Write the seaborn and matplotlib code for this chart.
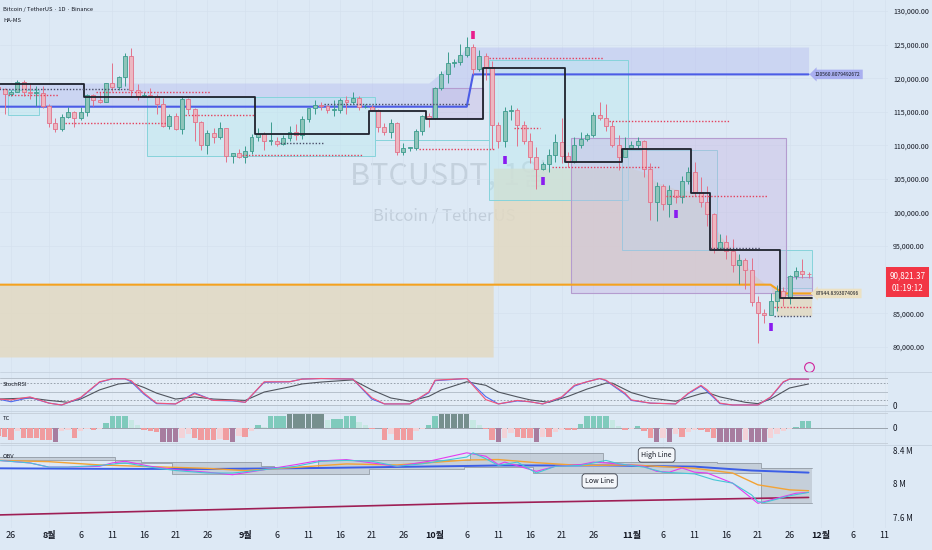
import numpy as np
import pandas as pd
import matplotlib
matplotlib.use('Agg')
import matplotlib.pyplot as plt
import seaborn as sns
from matplotlib.patches import Rectangle
from matplotlib.lines import Line2D
from matplotlib.colors import to_rgba

# ---- daily candles (BTCUSDT, Binance, 1D) ----
dates = pd.date_range('2025-07-24', '2025-11-29', freq='D')
first_open = 118750
closes = [118400, 117600, 117900, 119400, 118000, 117800, 117800, 115800,
          113300, 112500, 114200, 115000, 114100, 115000, 117500, 116700, 116500, 119300,
          118700, 120200, 123300, 118300, 117400, 117500, 117400, 116200, 112900, 114300,
          112500, 116900, 115400, 113500, 110100, 111800, 111200, 112600, 108400, 108800, 108300,
          109200, 111200, 111700, 110700, 110700, 110200, 111100, 112000, 111500, 113900,
          115500, 116000, 115900, 115300, 115300, 116800, 116400, 117100, 115700, 115700,
          115200, 112700, 112000, 113300, 109000, 109600, 109600, 112100, 114400, 114000,
          118600, 120600, 122200, 122400, 123500, 124700, 121400, 123300, 121700, 113000,
          110700, 115100, 115300, 113000, 110700, 108200, 106400, 107200, 108600, 110500,
          108400, 107500, 110000, 111000, 111600, 114500, 114100, 112900, 110000, 108300, 109600,
          110100, 110600, 106500, 101500, 103900, 101300, 103300, 102300, 104700, 106000,
          103000, 101600, 99700, 94500, 95600, 94200, 92200, 92900, 91500, 86600,
          85100, 84700, 86800, 88300, 87300, 90500, 91300, 90900, 90821.37]
highs = [119500, 118500, 118300, 119800, 119800, 119300, 118800, 118900,
         116100, 114000, 114700, 115700, 115100, 115700, 117600, 117700, 117900, 119300,
         122300, 120300, 123700, 124500, 119200, 117900, 118600, 117600, 117000, 114600,
         114800, 117400, 117000, 115600, 113600, 112300, 112600, 113400, 112600, 108900, 109500,
         109900, 111700, 112600, 112000, 113400, 111300, 111500, 112900, 113200, 114300,
         115500, 116700, 116400, 116000, 116800, 117000, 117300, 117900, 117400, 116200,
         116000, 115400, 113300, 113900, 113500, 110300, 109800, 112400, 114500, 114800,
         118700, 121000, 123900, 122900, 125100, 126200, 125100, 124200, 123700, 122500,
         113400, 115700, 116000, 115500, 113600, 111800, 109700, 107500, 109400, 111700,
         114000, 109000, 111300, 112000, 111900, 115000, 116400, 116100, 113600, 111600, 111200,
         110600, 111200, 110800, 107300, 104500, 104200, 104100, 103400, 105500, 106700,
         107500, 105300, 104000, 99900, 96800, 96600, 96000, 93800, 93200, 93200,
         87500, 85600, 88000, 89200, 88900, 90700, 91900, 93100, 91200]
lows = [117300, 114700, 117400, 117900, 117400, 116900, 115800, 115500,
        112700, 112000, 112100, 114100, 112700, 113700, 114300, 115900, 116300, 116500,
        118100, 118200, 118900, 117200, 116800, 117200, 117300, 114700, 112700, 112400,
        112300, 111700, 114600, 110700, 109300, 108700, 110400, 110900, 107500, 107400, 108100,
        107300, 108700, 110600, 109300, 110000, 109900, 110000, 110600, 110800, 110900,
        113400, 114700, 115200, 114800, 114400, 114800, 114700, 116200, 115200, 115500,
        115100, 112000, 111600, 111100, 108600, 108600, 109100, 109300, 111600, 112700,
        113900, 118300, 119300, 121600, 122000, 123100, 120600, 121100, 119700, 109500,
        109600, 109700, 113800, 109900, 110200, 107400, 103500, 106300, 106100, 107500,
        107400, 106700, 107400, 109600, 110700, 111300, 113800, 112200, 109700, 106300, 108600,
        109400, 109600, 105300, 98900, 98800, 100300, 99300, 101400, 101400, 104300,
        102500, 100800, 98000, 94000, 94600, 93000, 91200, 89300, 88600, 86100,
        80600, 83500, 84700, 85300, 86100, 86300, 90100, 90200, 90300]

# ---- HA-MS overlay levels ----
zone_dates = ['2025-07-24', '2025-09-30', '2025-10-04', '2025-10-06', '2025-10-07', '2025-11-29']
zone_lo = [115750, 115750, 115750, 115750, 120560.8, 120560.8]
zone_hi = [119280, 119280, 122400, 124640, 124640, 124640]

trend_dates = ['2025-07-24', '2025-08-07', '2025-09-03', '2025-09-21', '2025-09-30', '2025-10-09',
               '2025-10-22', '2025-10-31', '2025-11-11', '2025-11-14', '2025-11-25']
trend_levels = [119090, 117240, 111690, 115110, 113920, 121510, 107520, 109450, 102900, 94410, 87270]

beige_dates = ['2025-07-24', '2025-10-10 04:00', '2025-10-10 05:00', '2025-11-01', '2025-11-03',
               '2025-11-05', '2025-11-08', '2025-11-11', '2025-11-13', '2025-11-15', '2025-11-18',
               '2025-11-20', '2025-11-22', '2025-11-23', '2025-11-24', '2025-11-25', '2025-11-29 12:00']
base_levels = [89250, 89250, 89250, 89250, 89250, 89250, 89250, 89250, 89250, 89250, 89250,
               89250, 89250, 89250, 88600, 87944.84, 87944.84]
edge_levels = [78480, 78480, 106600, 106600, 106000, 104500, 103500, 103000, 100500, 96500, 93500,
               91000, 89500, 89250, 84600, 84600, 84600]

cyan_boxes = [('2025-07-26', '2025-07-30', 114510, 118240),
              ('2025-08-17', '2025-09-21', 108410, 117190),
              ('2025-10-10', '2025-10-31', 101860, 122700),
              ('2025-10-31', '2025-11-14', 94410, 109300),
              ('2025-11-25', '2025-11-29', 88750, 94410)]
cyan_levels = [('2025-09-22', '2025-10-09', 110840)]
purple_boxes = [('2025-10-01', '2025-10-08', 114070, 118530),
                ('2025-10-23', '2025-11-25', 88010, 111090),
                ('2025-11-26', '2025-11-29', 87710, 90390)]

red_levels = [('2025-07-26', '2025-08-02', 117490), ('2025-08-04', '2025-08-19', 113320),
              ('2025-08-09', '2025-08-26', 117940), ('2025-08-23', '2025-09-02', 114510),
              ('2025-09-01', '2025-09-19', 108560), ('2025-09-29', '2025-10-10', 109450),
              ('2025-10-10', '2025-10-27', 123000), ('2025-10-14', '2025-10-17', 112580),
              ('2025-10-20', '2025-11-05', 106770), ('2025-10-29', '2025-11-16', 113620),
              ('2025-11-07', '2025-11-22', 102460), ('2025-11-24', '2025-11-29', 85930)]
dark_levels = [('2025-07-24', '2025-08-13', 118390), ('2025-09-07', '2025-09-13', 110350),
               ('2025-09-14', '2025-10-06', 116150),
               ('2025-11-14', '2025-11-21', 94710), ('2025-11-24', '2025-11-29', 84590)]

signal_dates = ['2025-10-12', '2025-10-18', '2025-11-08', '2025-11-23']
signal_prices = [107810, 104690, 99770, 82950]
top_signal_date = '2025-10-07'
top_signal_price = 126430

# ---- StochRSI ----
k_dates = ['2025-07-24', '2025-07-26', '2025-07-29', '2025-08-01', '2025-08-03', '2025-08-06',
           '2025-08-09', '2025-08-11', '2025-08-13', '2025-08-14', '2025-08-16', '2025-08-18',
           '2025-08-21', '2025-08-24', '2025-08-27', '2025-08-30', '2025-09-01', '2025-09-04',
           '2025-09-08', '2025-09-10', '2025-09-13', '2025-09-18', '2025-09-21', '2025-09-23',
           '2025-09-27', '2025-09-30', '2025-10-01', '2025-10-06', '2025-10-09', '2025-10-11',
           '2025-10-14', '2025-10-16', '2025-10-18', '2025-10-21', '2025-10-23', '2025-10-25',
           '2025-10-27', '2025-10-28', '2025-10-31', '2025-11-01', '2025-11-04', '2025-11-08',
           '2025-11-10', '2025-11-12', '2025-11-13', '2025-11-15', '2025-11-17', '2025-11-21',
           '2025-11-23', '2025-11-25', '2025-11-26', '2025-11-29']
k_red = [22, 19, 30, 7, 0, 28, 86, 97, 97, 90, 44, 7, 4, 42, 17, 17, 10, 86, 86, 96,
         98, 96, 27, 4, 4, 48, 92, 98, 20, 4, 17, 12, 4, 30, 73, 86, 98, 92, 44, 19,
         7, 4, 44, 73, 56, 7, 0, 0, 30, 86, 96, 96]
k_blue = [22, 12, 28, 7, 0, 26, 84, 97, 97, 86, 40, 5, 4, 45, 17, 15, 10, 84, 86, 96,
          98, 96, 22, 4, 4, 45, 90, 98, 31, 4, 15, 12, 4, 28, 70, 86, 98, 90, 40, 17,
          7, 4, 42, 70, 50, 5, 0, 0, 28, 84, 96, 96]
d_dates = ['2025-07-24', '2025-07-29', '2025-08-01', '2025-08-04', '2025-08-06', '2025-08-09',
           '2025-08-12', '2025-08-14', '2025-08-16', '2025-08-18', '2025-08-21', '2025-08-24',
           '2025-08-27', '2025-08-30', '2025-09-01', '2025-09-04', '2025-09-08', '2025-09-10',
           '2025-09-13', '2025-09-18', '2025-09-21', '2025-09-24', '2025-09-27', '2025-09-30',
           '2025-10-02', '2025-10-06', '2025-10-09', '2025-10-11', '2025-10-14', '2025-10-16',
           '2025-10-19', '2025-10-22', '2025-10-25', '2025-10-28', '2025-10-29', '2025-11-01',
           '2025-11-04', '2025-11-08', '2025-11-12', '2025-11-13', '2025-11-15', '2025-11-19',
           '2025-11-21', '2025-11-23', '2025-11-26', '2025-11-29']
d_vals = [22, 26, 17, 10, 22, 56, 78, 82, 65, 44, 22, 30, 22, 19, 17, 48, 67, 78, 85, 93,
          56, 26, 14, 32, 56, 86, 73, 48, 30, 19, 10, 32, 59, 81, 81, 46, 26, 14, 42, 46,
          30, 10, 5, 22, 63, 78]

# ---- TC histogram (one bar per day) ----
tc_vals = [-8, -9, -12, -3, -10, -10, -10, -12,
           -12, -14, -3, -2, -10, -3, -1, -2, -1, 5, 12, 12, 12, 8, 3, -2, -3, -4,
           -14, -14, -14, -10, -6, -10, -12, -12, -12, -11, -12, -14, -8,
           -9, -3, 3, 1, 12, 12, 12, 14, 14, 14, 14, 14, 14, 8, 9, 9, 12, 12, 6, 3,
           -1, -0.5, -12, -6, -12, -12, -12, -3, -1, 3,
           12, 14, 14, 14, 14, 14, 8, 3, -1, -12, -14, -10, -5, -9, -10, -10, -14, -9, -9,
           -4, -2, -2, -2, 4, 12, 12, 12, 12, 8, 2, -2,
           -1, 2, -3, -10, -14, -10, -14, -6, -9, -4, -2, -2, -4, -10, -14, -14, -14, -14,
           -12, -14, -14, -14, -10, -6, -3, -1, 1, 7, 7]

# ---- OBV (millions) ----
obv_dates = ['2025-07-24', '2025-07-29', '2025-08-01', '2025-08-04', '2025-08-09', '2025-08-13',
             '2025-08-17', '2025-08-21', '2025-08-26', '2025-08-30', '2025-09-04', '2025-09-09',
             '2025-09-13', '2025-09-17', '2025-09-21', '2025-09-25', '2025-09-29', '2025-10-06',
             '2025-10-07', '2025-10-09', '2025-10-11', '2025-10-14', '2025-10-17', '2025-10-20',
             '2025-10-24', '2025-10-28', '2025-10-30', '2025-11-03', '2025-11-06', '2025-11-11',
             '2025-11-14', '2025-11-17', '2025-11-20', '2025-11-21', '2025-11-22', '2025-11-24',
             '2025-11-26', '2025-11-29']
obv_vals = [8.28, 8.25, 8.20, 8.20, 8.22, 8.25, 8.20, 8.16, 8.13, 8.13, 8.17, 8.21, 8.27,
            8.28, 8.27, 8.21, 8.24, 8.32, 8.37, 8.30, 8.22, 8.26, 8.13, 8.21, 8.22, 8.28,
            8.24, 8.20, 8.14, 8.12, 8.05, 8.01, 7.87, 7.79, 7.78, 7.82, 7.86, 7.90]
mag_dates = ['2025-07-24', '2025-07-29', '2025-08-01', '2025-08-04', '2025-08-09', '2025-08-11',
             '2025-08-13', '2025-08-17', '2025-08-21', '2025-08-26', '2025-08-30', '2025-09-04',
             '2025-09-09', '2025-09-12', '2025-09-17', '2025-09-21', '2025-09-25', '2025-09-30',
             '2025-10-06', '2025-10-09', '2025-10-11', '2025-10-12', '2025-10-17', '2025-10-20',
             '2025-10-24', '2025-10-26', '2025-10-28', '2025-11-03', '2025-11-05', '2025-11-07',
             '2025-11-09', '2025-11-11', '2025-11-13', '2025-11-17', '2025-11-21', '2025-11-24',
             '2025-11-27', '2025-11-29']
mag_vals = [8.28, 8.25, 8.20, 8.20, 8.21, 8.25, 8.27, 8.21, 8.17, 8.14, 8.11, 8.17, 8.23,
            8.27, 8.29, 8.25, 8.21, 8.27, 8.37, 8.33, 8.23, 8.26, 8.15, 8.21, 8.23, 8.26,
            8.25, 8.21, 8.15, 8.14, 8.19, 8.14, 8.13, 8.01, 7.77, 7.83, 7.89, 7.90]
ora_dates = ['2025-07-24', '2025-08-01', '2025-08-09', '2025-08-17', '2025-08-26', '2025-09-01',
             '2025-09-09', '2025-09-17', '2025-09-25', '2025-10-06', '2025-10-11', '2025-10-17',
             '2025-10-24', '2025-11-01', '2025-11-06', '2025-11-11', '2025-11-17', '2025-11-21',
             '2025-11-26', '2025-11-29']
ora_vals = [8.28, 8.265, 8.226, 8.206, 8.186, 8.158, 8.198, 8.238, 8.226, 8.285, 8.29, 8.253,
            8.22, 8.226, 8.206, 8.186, 8.13, 7.99, 7.93, 7.92]
blu_dates = ['2025-07-24', '2025-08-09', '2025-08-26', '2025-09-13', '2025-10-06', '2025-10-11',
             '2025-10-28', '2025-11-11', '2025-11-20', '2025-11-29']
blu_vals = [8.186, 8.18, 8.178, 8.19, 8.214, 8.22, 8.22, 8.206, 8.16, 8.135]
crm_dates = ['2025-07-24', '2025-08-30', '2025-10-06', '2025-11-29']
crm_vals = [7.632, 7.70, 7.77, 7.84]
band_hi_dates = ['2025-07-24', '2025-08-12', '2025-08-16', '2025-09-04', '2025-09-06',
                 '2025-09-13', '2025-10-07', '2025-10-28', '2025-11-15', '2025-11-22']
band_hi = [8.325, 8.285, 8.265, 8.21, 8.198, 8.285, 8.372, 8.265, 8.246, 8.186]
band_lo_dates = ['2025-07-24', '2025-08-12', '2025-08-21', '2025-09-21', '2025-10-06',
                 '2025-10-17', '2025-11-22']
band_lo = [8.285, 8.25, 8.115, 8.174, 8.206, 8.135, 7.77]

# ---- axes text ----
price_ticks = [80000, 85000, 95000, 100000, 105000, 110000, 115000, 120000, 125000, 130000]
xt_dates = ['2025-07-26', '2025-08-01', '2025-08-06', '2025-08-11', '2025-08-16', '2025-08-21',
            '2025-08-26', '2025-09-01', '2025-09-06', '2025-09-11', '2025-09-16', '2025-09-21',
            '2025-09-26', '2025-10-01', '2025-10-06', '2025-10-11', '2025-10-16', '2025-10-21',
            '2025-10-26', '2025-11-01', '2025-11-06', '2025-11-11', '2025-11-16', '2025-11-21',
            '2025-11-26', '2025-12-01', '2025-12-06', '2025-12-11']
xt_labels = ['26', '8월', '6', '11', '16', '21', '26', '9월', '6', '11', '16', '21', '26',
             '10월', '6', '11', '16', '21', '26', '11월', '6', '11', '16', '21', '26',
             '12월', '6', '11']

BASE = pd.Timestamp('2025-07-26')


def dn(d):
    '''day number (float) counted from 26 Jul'''
    if isinstance(d, str):
        t = pd.Timestamp(d) - BASE
        return t / pd.Timedelta(days=1)
    t = pd.to_datetime(list(d) if not isinstance(d, pd.DatetimeIndex) else d,
                       format='ISO8601') - BASE
    return np.asarray(t / pd.Timedelta(days=1))


sns.set_theme(style='white')
plt.rcParams['font.family'] = ['Liberation Sans Narrow', 'Noto Sans CJK KR', 'DejaVu Sans']
plt.rcParams['axes.unicode_minus'] = False

BG = '#dde9f5'
TXT = '#131722'
GRID = '#d5e1ee'
fig = plt.figure(figsize=(9.32, 5.5), dpi=100)
fig.patch.set_facecolor(BG)

W = 888 / 932


def pane(top, bottom):
    return [0, 1 - bottom / 550, W, (bottom - top) / 550]


ax = fig.add_axes(pane(0, 372))
ax_s = fig.add_axes(pane(372, 411), sharex=ax)
ax_t = fig.add_axes(pane(411, 445), sharex=ax)
ax_o = fig.add_axes(pane(445, 528), sharex=ax)

# ================= main price pane =================
ax.text(0.5056, 0.527, 'BTCUSDT, 1일', transform=ax.transAxes, ha='center', va='center',
        fontsize=22, color='#8d9aa8', alpha=0.3, zorder=0.5)
ax.text(0.5, 0.419, 'Bitcoin / TetherUS', transform=ax.transAxes, ha='center', va='center',
        fontsize=12, color='#8d9aa8', alpha=0.35, zorder=0.5)

bx = dn(beige_dates)
ax.fill_between(bx, base_levels, edge_levels, color='#e2d9c2', alpha=0.85, lw=0, zorder=1)
ax.plot(bx, base_levels, color='#f4a21f', lw=1.5, zorder=3)

zx = dn(zone_dates)
ax.fill_between(zx, zone_lo, zone_hi, color='#b4baf0', alpha=0.42, lw=0, zorder=1.2)
ax.plot(zx, zone_lo, color='#4b5ce6', lw=1.5, zorder=3)

for s, e, lo, hi in cyan_boxes:
    x0, x1 = dn(s) - 0.5, dn(e) + 0.5
    ax.add_patch(Rectangle((x0, lo), x1 - x0, hi - lo, fc=to_rgba('#b8eaf0', 0.42),
                           ec='#86d3db', lw=0.7, zorder=1.5))
for s, e, p in cyan_levels:
    ax.hlines(p, dn(s) - 0.5, dn(e) + 0.5, colors='#86d3db', lw=0.7, zorder=1.5)
for s, e, lo, hi in purple_boxes:
    x0, x1 = dn(s) - 0.5, dn(e) + 0.5
    ax.add_patch(Rectangle((x0, lo), x1 - x0, hi - lo, fc=to_rgba('#c6b6e2', 0.42),
                           ec='#b49ccf', lw=0.8, zorder=1.6))

# candles
x = dn(dates)
c = np.array(closes, float)
o = np.r_[first_open, c[:-1]]
up = c >= o
body_col = np.where(up, '#8fc4ba', '#ecb7c1')
edge_col = np.where(up, '#3c9c8e', '#e2728a')
ax.vlines(x, lows, highs, colors=edge_col, lw=0.7, zorder=4)
ax.bar(x, np.maximum(np.abs(c - o), 80), bottom=np.minimum(o, c), width=0.62,
       color=body_col, edgecolor=edge_col, linewidth=0.6, zorder=5)

tx = np.r_[dn(trend_dates) - 0.5, dn('2025-11-29') + 0.5]
ty = trend_levels + [trend_levels[-1]]
ax.step(tx, ty, where='post', color='#1e222d', lw=1.3, zorder=6)

for s, e, p in red_levels:
    ax.hlines(p, dn(s) - 0.5, dn(e) + 0.5, colors='#e4405c', linestyles=(0, (1, 1.3)),
              lw=1.0, zorder=6)
for s, e, p in dark_levels:
    ax.hlines(p, dn(s) - 0.5, dn(e) + 0.5, colors='#4b4f6a', linestyles=(0, (1, 1.3)),
              lw=1.0, zorder=6)

ax.plot(dn(signal_dates), signal_prices, ls='none', marker='|', ms=5.5, mew=2.6,
        color='#8a1cf0', zorder=7)
ax.plot(dn(top_signal_date), top_signal_price, ls='none', marker='|', ms=5.5, mew=2.6,
        color='#e91e8c', zorder=7)
ax.plot(dn('2025-11-29'), 76990, ls='none', marker='o', ms=7, mfc='none', mec='#d0229a',
        mew=0.8, zorder=7)

ax.text(130.6, 120560.8, '120560.8079492672', ha='center', va='center', fontsize=3.6,
        color=TXT, zorder=8,
        bbox=dict(boxstyle='larrow,pad=0.45', fc='#a9aff0', ec='none'))
ax.text(130.6, 87944.84, '87944.8393074096', ha='center', va='center', fontsize=3.6,
        color=TXT, zorder=8,
        bbox=dict(boxstyle='larrow,pad=0.45', fc='#ebe1c3', ec='none'))

ax.set_ylim(76247, 131638)
ax.set_yticks(price_ticks)
ax.set_yticklabels([f'{v:,.2f}' for v in price_ticks])
ax.grid(axis='y', color=GRID, lw=0.5)

ax.text(3 / 888, 1 - 10 / 372, 'Bitcoin / TetherUS · 1D · Binance', transform=ax.transAxes,
        fontsize=4.2, color=TXT, va='center')
ax.text(3 / 888, 1 - 21 / 372, 'HA-MS', transform=ax.transAxes, fontsize=4.2, color=TXT,
        va='center')

# ================= StochRSI =================
ax_s.axhspan(0, 100, color='white', alpha=0.18, lw=0)
for lvl in (0, 50, 100):
    ax_s.axhline(lvl, color='#b6c0cb', lw=0.7)
for lvl in (20, 80):
    ax_s.axhline(lvl, color='#8c96a1', lw=0.6, ls=(0, (2, 2)))
sns.lineplot(x=dn(d_dates), y=d_vals, ax=ax_s, color='#50555e', lw=0.8)
sns.lineplot(x=dn(k_dates), y=k_blue, ax=ax_s, color='#4f6cf0', lw=0.8)
sns.lineplot(x=dn(k_dates), y=k_red, ax=ax_s, color='#f2557a', lw=0.8)
ax_s.set_ylim(-22.2, 122.2)
ax_s.set_yticks([0])
ax_s.set_yticklabels(['0'])
ax_s.text(3 / 888, 0.667, 'StochRSI', transform=ax_s.transAxes, fontsize=4.2, color=TXT,
          va='center')

# ================= TC =================
tc = np.array(tc_vals, float)
prev = np.r_[tc[0], tc[:-1]]
tc_cols = []
for v, p in zip(tc, prev):
    if v >= 0:
        tc_cols.append('#768f8e' if v >= 14 else ('#7fcabc' if v >= p else '#c6e8e3'))
    else:
        tc_cols.append('#a77d9f' if v <= -14 else ('#f09c9f' if v <= p else '#f3d3d8'))
ax_t.axhline(15.2, color='#c3cdd8', lw=0.6)
ax_t.axhline(-14.8, color='#c3cdd8', lw=0.6)
ax_t.axhline(0, color='#9aa3ad', lw=0.7)
ax_t.bar(x, tc, width=0.86, color=tc_cols, lw=0, zorder=2)
ax_t.set_ylim(-17.3, 16.7)
ax_t.set_yticks([0])
ax_t.set_yticklabels(['0'])
ax_t.text(3 / 888, 0.79, 'TC', transform=ax_t.transAxes, fontsize=4.2, color=TXT, va='center')

# ================= OBV =================
hi_s = pd.Series(band_hi, index=pd.to_datetime(band_hi_dates)).reindex(dates).ffill()
lo_s = pd.Series(band_lo, index=pd.to_datetime(band_lo_dates)).reindex(dates).ffill()
bxs = np.r_[x - 0.5, x[-1] + 0.5]
hv = np.r_[hi_s.values, hi_s.values[-1]]
lv = np.r_[lo_s.values, lo_s.values[-1]]
ax_o.fill_between(bxs, lv, hv, step='post', color='#a9b1ba', alpha=0.45, lw=0, zorder=1)
ax_o.step(bxs, hv, where='post', color='#939ca6', lw=0.6, zorder=1.5)
ax_o.step(bxs, lv, where='post', color='#939ca6', lw=0.6, zorder=1.5)
sns.lineplot(x=dn(crm_dates), y=crm_vals, ax=ax_o, color='#9e1f55', lw=1.2, zorder=2)
sns.lineplot(x=dn(blu_dates), y=blu_vals, ax=ax_o, color='#3c5ee6', lw=1.4, zorder=3)
sns.lineplot(x=dn(ora_dates), y=ora_vals, ax=ax_o, color='#f3a335', lw=1.0, zorder=3)
sns.lineplot(x=dn(mag_dates), y=mag_vals, ax=ax_o, color='#e33cf0', lw=0.8, zorder=4)
sns.lineplot(x=dn(obv_dates), y=obv_vals, ax=ax_o, color='#46c6d6', lw=0.8, zorder=4)
ax_o.text(dn('2025-11-05'), 8.344, 'High Line', ha='center', va='center', fontsize=5,
          color=TXT, zorder=6,
          bbox=dict(boxstyle='round,pad=0.45', fc='#f3f6fa', ec='#3a3f4a', lw=0.6))
ax_o.text(dn('2025-10-27'), 8.036, 'Low Line', ha='center', va='center', fontsize=5,
          color=TXT, zorder=6,
          bbox=dict(boxstyle='round,pad=0.45', fc='#f3f6fa', ec='#3a3f4a', lw=0.6))
ax_o.set_ylim(7.477, 8.463)
ax_o.set_yticks([7.6, 8.0, 8.4])
ax_o.set_yticklabels(['7.6 M', '8 M', '8.4 M'])
ax_o.text(3 / 888, 0.867, 'OBV', transform=ax_o.transAxes, fontsize=4.2, color=TXT,
          va='center')

# ================= common styling =================
for a in (ax, ax_s, ax_t, ax_o):
    a.set_facecolor('none')
    for sp in a.spines.values():
        sp.set_visible(False)
    a.yaxis.tick_right()
    a.tick_params(axis='y', length=0, pad=3.6, labelsize=5.1, labelcolor=TXT)
    a.tick_params(axis='x', length=0)
    a.grid(axis='x', color=GRID, lw=0.5)
    a.set_xlabel('')
    a.set_ylabel('')
for a in (ax, ax_s, ax_t):
    a.tick_params(labelbottom=False)
ax_o.tick_params(axis='y', labelsize=5.8)
ax_s.tick_params(axis='y', labelsize=5.8)
ax_t.tick_params(axis='y', labelsize=5.8)

ax_o.set_xticks(dn(xt_dates))
ax_o.set_xticklabels(xt_labels)
ax_o.tick_params(axis='x', labelsize=6.5, labelcolor=TXT, pad=2.5)
for lbl, txt in zip(ax_o.get_xticklabels(), xt_labels):
    if '월' in txt:
        lbl.set_fontweight('bold')
ax.set_xlim(-1.738, 138.55)

for ypx in (372, 411, 445):
    fig.add_artist(Line2D([0, 1], [1 - ypx / 550] * 2, transform=fig.transFigure,
                          color='#c6d2df', lw=0.6))

fig.text(907.5 / 932, 1 - 282 / 550, '90,821.37\n01:19:12', ha='center', va='center',
         fontsize=5.8, color='white', linespacing=1.6,
         bbox=dict(boxstyle='square,pad=0.45', fc='#f23645', ec='none'))

fig.savefig('out.png', dpi=100, facecolor=BG)
